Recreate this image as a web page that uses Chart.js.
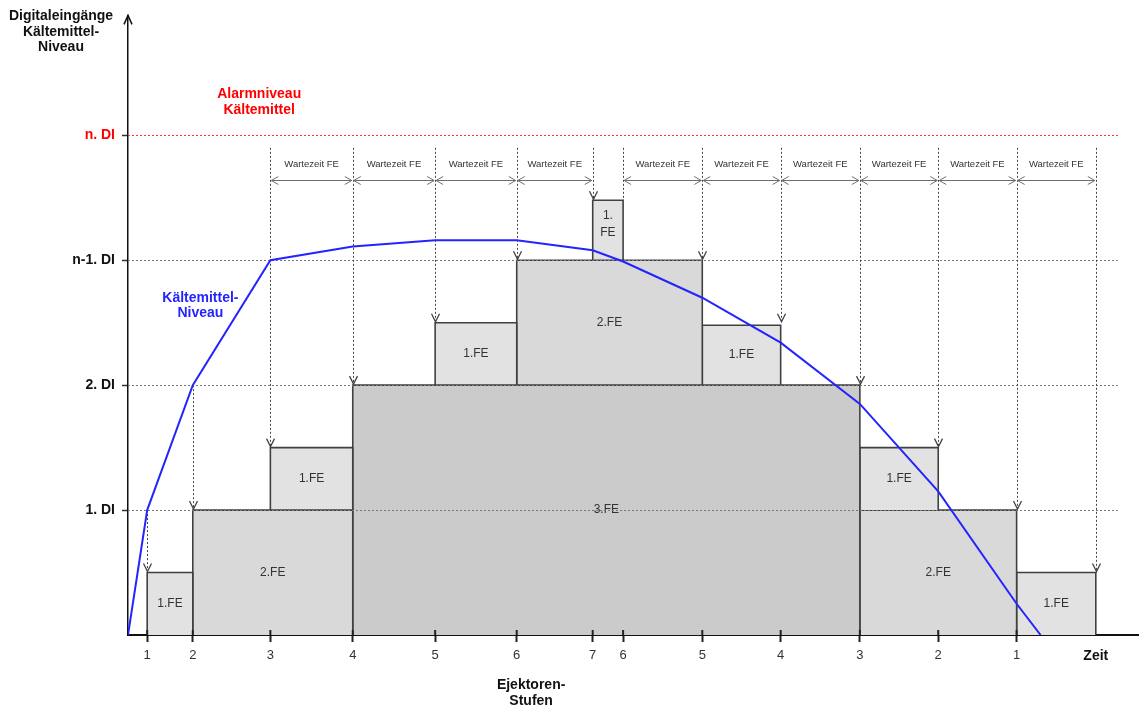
<!DOCTYPE html>
<html lang="de">
<head>
<meta charset="utf-8">
<title>Kältemittel-Niveau / Ejektoren-Stufen</title>
<script src="https://cdn.jsdelivr.net/npm/chart.js@4.4.1/dist/chart.umd.min.js"></script>
<style>
  html, body { margin: 0; padding: 0; background: #fff; }
</style>
</head>
<body>
<canvas id="chart" width="1139" height="706"></canvas>
<script>
// x-Achse: Zeitpunkte der Stufenwechsel und ihre Beschriftung
const stufenZeit = [0.24, 0.81, 1.78, 2.81, 3.84, 4.86, 5.81, 6.19, 7.18, 8.16, 9.15, 10.13, 11.11, 12.1];
const stufenLabel = ['1', '2', '3', '4', '5', '6', '7', '6', '5', '4', '3', '2', '1', 'Zeit'];

// y-Achse: Digitaleingänge
const diWerte = [1, 2, 3, 4];
const diLabel = ['1. DI', '2. DI', 'n-1. DI', 'n. DI'];

// Kältemittel-Niveau (blaue Linie)
const niveauZeit = [0, 0.24, 0.81, 1.78, 2.81, 3.84, 4.86, 5.81, 6.19, 7.18, 8.16, 9.15, 10.13, 11.11, 11.41];
const niveauWert = [0, 1, 2, 3, 3.11, 3.16, 3.16, 3.08, 2.99, 2.70, 2.34, 1.85, 1.15, 0.25, 0];

// Ejektoren-Blöcke
const blockVon   = [0.24, 0.81, 1.78, 2.81, 3.84, 4.86, 5.81, 7.18, 9.15, 9.15, 11.11];
const blockBis   = [0.81, 2.81, 2.81, 9.15, 4.86, 7.18, 6.19, 8.16, 10.13, 11.11, 12.1];
const blockUnten = [0, 0, 1, 0, 2, 2, 3, 2, 1, 0, 0];
const blockOben  = [0.5, 1, 1.5, 2, 2.5, 3, 3.48, 2.48, 1.5, 1, 0.5];
const blockText  = ['1.FE', '2.FE', '1.FE', '3.FE', '1.FE', '2.FE', '1.\nFE', '1.FE', '1.FE', '2.FE', '1.FE'];

// gestrichelte Pfeile nach unten
const pfeilX     = [0.24, 0.81, 1.78, 2.81, 3.84, 4.86, 5.81, 6.19, 7.18, 8.16, 9.15, 10.13, 11.11, 12.1];
const pfeilVon   = [1, 2, 3.9, 3.9, 3.9, 3.9, 3.9, 3.9, 3.9, 3.9, 3.9, 3.9, 3.9, 3.9];
const pfeilBis   = [0.5, 1, 1.5, 2, 2.5, 3, 3.48, 3.48, 3, 2.5, 2, 1.5, 1, 0.5];
const pfeilSpitze = [true, true, true, true, true, true, true, false, true, true, true, true, true, true];

// Wartezeit-Pfeile
const wartVon = [1.78, 2.81, 3.84, 4.86, 6.19, 7.18, 8.16, 9.15, 10.13, 11.11];
const wartBis = [2.81, 3.84, 4.86, 5.81, 7.18, 8.16, 9.15, 10.13, 11.11, 12.1];
const wartText = 'Wartezeit FE';

const linienEnde = 12.375;
const FONT = '"Liberation Sans", Arial, sans-serif';
const blau = '#2424ff';
const rot = '#ff0000';
const farbe = { '1': '#e2e2e2', '2': '#d9d9d9', '3': '#cbcbcb' };

const niveauDaten = niveauZeit.map((t, i) => ({ x: t, y: niveauWert[i] }));

const blockDatasets = blockVon.map((v, i) => ({
    label: blockText[i],
    data: [
        { x: v, y: blockUnten[i] },
        { x: v, y: blockOben[i] },
        { x: blockBis[i], y: blockOben[i] },
        { x: blockBis[i], y: blockUnten[i] }
    ],
    borderColor: '#404040',
    borderWidth: 1.6,
    backgroundColor: farbe[blockText[i].charAt(0)],
    fill: { value: blockUnten[i] },
    pointRadius: 0,
    tension: 0,
    order: 1
}));

function text(ctx, str, x, y, font, color) {
    ctx.font = font;
    ctx.fillStyle = color;
    ctx.textAlign = 'center';
    ctx.textBaseline = 'middle';
    ctx.fillText(str, x, y);
}

function linie(ctx, x1, y1, x2, y2) {
    ctx.beginPath();
    ctx.moveTo(x1, y1);
    ctx.lineTo(x2, y2);
    ctx.stroke();
}

const zeichnung = {
    id: 'zeichnung',
    beforeDatasetDraw(chart, args) {
        if (args.index !== 0) return; // vor der blauen Linie zeichnen
        const { ctx, chartArea } = chart;
        const x = chart.scales.x, y = chart.scales.y;
        const px = v => x.getPixelForValue(v);
        const py = v => y.getPixelForValue(v);
        ctx.save();

        // Beschriftung der Blöcke
        blockText.forEach((t, i) => {
            const cx = (px(blockVon[i]) + px(blockBis[i])) / 2;
            const cy = (py(blockUnten[i]) + py(blockOben[i])) / 2;
            const zeilen = t.split('\n');
            zeilen.forEach((z, k) => {
                text(ctx, z, cx, cy + (k - (zeilen.length - 1) / 2) * 17 - (zeilen.length > 1 ? 6 : 0),
                    '12px ' + FONT, '#333');
            });
        });

        // DI-Niveaulinien
        ctx.lineWidth = 1;
        ctx.setLineDash([2, 2]);
        diWerte.forEach((v, i) => {
            ctx.strokeStyle = i === diWerte.length - 1 ? '#ff3030' : '#777';
            const yy = Math.round(py(v)) + 0.5;
            linie(ctx, chartArea.left, yy, px(linienEnde), yy);
        });

        // senkrechte Pfeile
        ctx.strokeStyle = '#444';
        pfeilX.forEach((v, i) => {
            const xx = Math.round(px(v)) + 0.5;
            ctx.setLineDash([2, 2]);
            linie(ctx, xx, py(pfeilVon[i]), xx, py(pfeilBis[i]));
            if (pfeilSpitze[i]) {
                const yb = py(pfeilBis[i]) - 1;
                ctx.setLineDash([]);
                ctx.lineWidth = 1.3;
                ctx.beginPath();
                ctx.moveTo(xx - 4, yb - 8);
                ctx.lineTo(xx, yb);
                ctx.lineTo(xx + 4, yb - 8);
                ctx.stroke();
                ctx.lineWidth = 1;
            }
        });

        // Wartezeit-Pfeile
        ctx.setLineDash([]);
        ctx.strokeStyle = '#6e6e6e';
        const yw = Math.round(py(3.64)) + 0.5;
        wartVon.forEach((v, i) => {
            const a = px(v) + 1, b = px(wartBis[i]) - 1;
            ctx.beginPath();
            ctx.moveTo(a, yw); ctx.lineTo(b, yw);
            ctx.moveTo(a + 7, yw - 4); ctx.lineTo(a, yw); ctx.lineTo(a + 7, yw + 4);
            ctx.moveTo(b - 7, yw - 4); ctx.lineTo(b, yw); ctx.lineTo(b - 7, yw + 4);
            ctx.stroke();
            text(ctx, wartText, (a + b) / 2, py(3.77), '9.5px ' + FONT, '#333');
        });

        // Skalenstriche innen
        ctx.strokeStyle = '#222';
        ctx.lineWidth = 2;
        stufenZeit.slice(0, -1).forEach(v => {
            linie(ctx, px(v), chartArea.bottom - 5, px(v), chartArea.bottom);
        });
        ctx.restore();
    },
    afterDraw(chart) {
        const { ctx, chartArea } = chart;
        const x = chart.scales.x, y = chart.scales.y;
        const bold = 'bold 14px ' + FONT;
        ctx.save();
        // Pfeilspitze y-Achse
        ctx.strokeStyle = '#111';
        ctx.lineWidth = 1.5;
        ctx.beginPath();
        ctx.moveTo(chartArea.left - 4, chartArea.top + 9);
        ctx.lineTo(chartArea.left, chartArea.top);
        ctx.lineTo(chartArea.left + 4, chartArea.top + 9);
        ctx.stroke();

        // Achsentitel
        text(ctx, 'Digitaleingänge', 61, 16, bold, '#111');
        text(ctx, 'Kältemittel-', 61, 32, bold, '#111');
        text(ctx, 'Niveau', 61, 47, bold, '#111');
        text(ctx, 'Ejektoren-', x.getPixelForValue(5.04), 685, bold, '#111');
        text(ctx, 'Stufen', x.getPixelForValue(5.04), 701, bold, '#111');

        // Alarmniveau
        text(ctx, 'Alarmniveau', x.getPixelForValue(1.64), y.getPixelForValue(4.33), bold, rot);
        text(ctx, 'Kältemittel', x.getPixelForValue(1.64), y.getPixelForValue(4.2), bold, rot);

        // Kältemittel-Niveau
        text(ctx, 'Kältemittel-', x.getPixelForValue(0.905), y.getPixelForValue(2.7), bold, blau);
        text(ctx, 'Niveau', x.getPixelForValue(0.905), y.getPixelForValue(2.58), bold, blau);
        ctx.restore();
    }
};

new Chart(document.getElementById('chart').getContext('2d'), {
    type: 'line',
    data: {
        datasets: [{
            label: 'Kältemittel-Niveau',
            data: niveauDaten,
            borderColor: blau,
            borderWidth: 2,
            pointRadius: 0,
            tension: 0,
            fill: false,
            order: 0
        }].concat(blockDatasets)
    },
    options: {
        responsive: false,
        animation: false,
        layout: { padding: { top: 11, left: 0, right: 0, bottom: 0 } },
        plugins: {
            legend: { display: false },
            tooltip: { enabled: false }
        },
        scales: {
            x: {
                type: 'linear',
                min: 0,
                max: 12.64,
                afterFit: s => { s.height = 71; },
                afterBuildTicks: s => { s.ticks = stufenZeit.map(v => ({ value: v })); },
                border: { color: '#111', width: 2 },
                grid: {
                    drawOnChartArea: false,
                    tickLength: 7,
                    tickWidth: 2,
                    tickColor: c => c.index === stufenZeit.length - 1 ? 'rgba(0,0,0,0)' : '#222'
                },
                ticks: {
                    autoSkip: false,
                    maxRotation: 0,
                    padding: 6,
                    color: c => c.index === stufenZeit.length - 1 ? '#111' : '#333',
                    font: c => c.index === stufenZeit.length - 1
                        ? { family: FONT, size: 14, weight: 'bold' }
                        : { family: FONT, size: 13 },
                    callback: (v, i) => stufenLabel[i]
                }
            },
            y: {
                min: 0,
                max: 4.96,
                afterFit: s => { s.width = 128; },
                afterBuildTicks: s => { s.ticks = diWerte.map(v => ({ value: v })); },
                border: { color: '#111', width: 1.5 },
                grid: { drawOnChartArea: false, tickLength: 6, tickWidth: 1.5, tickColor: '#333' },
                ticks: {
                    padding: 7,
                    color: c => c.index === diWerte.length - 1 ? rot : '#111',
                    font: { family: FONT, size: 14, weight: 'bold' },
                    callback: (v, i) => diLabel[i]
                }
            }
        }
    },
    plugins: [zeichnung]
});
</script>
</body>
</html>
